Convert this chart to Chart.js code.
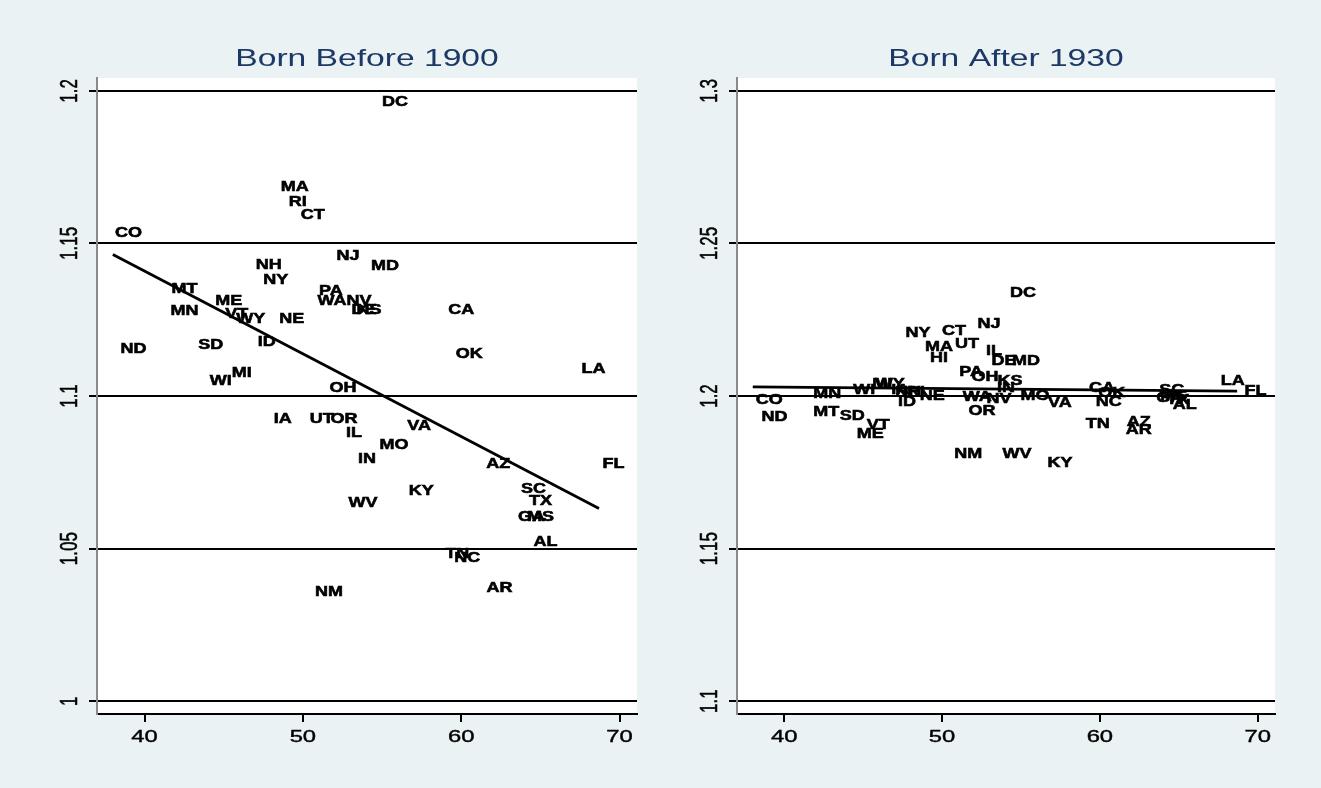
<!DOCTYPE html>
<html>
<head>
<meta charset="utf-8">
<script src="https://cdn.jsdelivr.net/npm/chart.js@4.4.1/dist/chart.umd.min.js"></script>
<style>
  html, body { margin: 0; padding: 0; background: #eaf2f3; }
  #wrap { position: relative; width: 1321px; height: 788px; overflow: hidden; }
  .panel { position: absolute; top: 0; height: 788px; }
</style>
</head>
<body>
<div id="wrap">
  <div class="panel" style="left:0;width:660px"><canvas id="before" width="660" height="788"></canvas></div>
  <div class="panel" style="left:660px;width:661px"><canvas id="after" width="661" height="788"></canvas></div>
</div>
<script>
// ---- data ----
const xTicks = [40, 50, 60, 70];

// Born before 1900
const statesBefore = ['DC','MA','RI','CT','CO','NJ','NH','MD','NY','MT','PA','ME','WA','NV','DE','KS','CA','MN','VT','WY',
  'NE','ID','SD','ND','OK','LA','MI','WI','OH','IA','UT','OR','IL','VA','MO','IN','AZ','FL','KY','SC',
  'WV','TX','GA','MS','AL','TN','NC','AR','NM'];
const xBefore = [55.82,49.49,49.68,50.63,38.99,52.85,47.85,55.19,48.29,42.53,51.77,45.32,51.84,53.54,53.86,54.18,60.00,42.53,45.82,46.71,
  49.30,47.72,44.18,39.30,60.51,68.35,46.14,44.81,52.53,48.73,51.20,52.59,53.23,57.34,55.76,54.05,62.34,69.62,57.47,64.56,
  53.80,65.00,64.43,65.00,65.32,59.75,60.38,62.41,51.65];
const yBefore = [1.1967,1.1689,1.1640,1.1597,1.1538,1.1463,1.1434,1.1430,1.1385,1.1355,1.1349,1.1316,1.1316,1.1316,1.1286,1.1286,1.1286,1.1283,1.1273,1.1257,
  1.1257,1.1182,1.1172,1.1159,1.1142,1.1093,1.1080,1.1054,1.1031,1.0930,1.0930,1.0930,1.0884,1.0907,1.0845,1.0799,1.0782,1.0782,1.0694,1.0700,
  1.0655,1.0661,1.0609,1.0609,1.0527,1.0488,1.0475,1.0376,1.0363];
const fitXBefore = [38, 68.7];
const fitYBefore = [1.1464, 1.0631];
const yTicksBefore = [1, 1.05, 1.1, 1.15, 1.2];
const yTickLabelsBefore = ['1', '1.05', '1.1', '1.15', '1.2'];

// Born after 1930
const statesAfter = ['DC','NJ','NY','CT','MA','UT','HI','IL','DE','MD','PA','OH','KS','IN','CA','OK','MO','VA','NC','OR',
  'WA','NV','WI','MN','MT','SD','CO','ND','VT','ME','ID','NE','MI','WY','IA','NH','RI','TN','AZ','AR',
  'NM','WV','KY','LA','FL','SC','GA','MS','TX','AL'];
const xAfter = [55.13,52.97,48.48,50.76,49.81,51.58,49.81,53.29,53.92,55.32,51.84,52.72,54.30,54.05,60.13,60.76,55.89,57.47,60.57,52.53,
  52.22,53.61,45.06,42.72,42.66,44.30,39.05,39.37,45.95,45.44,47.78,49.37,46.20,46.71,47.34,47.85,48.35,59.87,62.47,62.47,
  51.65,54.75,57.47,68.42,69.87,64.56,64.43,64.68,64.94,65.38];
const yAfter = [1.2342,1.2241,1.2211,1.2218,1.2166,1.2175,1.2129,1.2152,1.2119,1.2119,1.2083,1.2067,1.2054,1.2031,1.2031,1.2015,1.2005,1.1982,1.1985,1.1956,
  1.2002,1.1995,1.2025,1.2011,1.1953,1.1939,1.1992,1.1936,1.1910,1.1881,1.1985,1.2005,1.2044,1.2044,1.2025,1.2018,1.2018,1.1913,1.1920,1.1894,
  1.1815,1.1815,1.1786,1.2054,1.2021,1.2025,1.1998,1.2005,1.1992,1.1975];
const fitXAfter = [38, 68.7];
const fitYAfter = [1.2030, 1.2016];
const yTicksAfter = [1.1, 1.15, 1.2, 1.25, 1.3];
const yTickLabelsAfter = ['1.1', '1.15', '1.2', '1.25', '1.3'];

// ---- drawing ----
const STRETCH = 1.4; // the reference text is drawn wide

function wideText(ctx, text, x, y, sx, rot, stroke){
  ctx.save();
  ctx.translate(x, y);
  ctx.scale(sx, 1);
  if (rot) ctx.rotate(rot);
  ctx.fillText(text, 0, 0);
  if (stroke) ctx.strokeText(text, 0, 0);
  ctx.restore();
}

const stataText = {
  id: 'stataText',
  beforeDraw(chart){
    const a = chart.chartArea, ctx = chart.ctx;
    ctx.save();
    ctx.fillStyle = '#ffffff';
    ctx.fillRect(a.left, a.top, a.right - a.left, a.bottom - a.top);
    ctx.restore();
  },
  beforeDatasetsDraw(chart){
    const ctx = chart.ctx, o = chart.options.plugins.stataText;
    const meta = chart.getDatasetMeta(0);
    ctx.save();
    ctx.fillStyle = '#000000';
    ctx.strokeStyle = '#000000';
    ctx.lineWidth = 0.6;
    ctx.font = 'bold 15px "Liberation Sans", Arial, sans-serif';
    ctx.textAlign = 'center';
    ctx.textBaseline = 'alphabetic';
    meta.data.forEach((pt, i) => {
      wideText(ctx, o.names[i], pt.x, pt.y + 5.4, 1.2, 0, true);
    });
    ctx.restore();
  },
  afterDraw(chart){
    const ctx = chart.ctx, o = chart.options.plugins.stataText;
    const a = chart.chartArea, xs = chart.scales.x, ys = chart.scales.y;
    ctx.save();
    // title
    ctx.fillStyle = '#1c3866';
    ctx.font = '24px "Liberation Sans", Arial, sans-serif';
    ctx.textAlign = 'center';
    ctx.textBaseline = 'alphabetic';
    wideText(ctx, o.title, (a.left + a.right) / 2, 66, STRETCH);
    // x tick labels
    ctx.fillStyle = '#000000';
    ctx.strokeStyle = '#000000';
    ctx.lineWidth = 0.4;
    ctx.font = '17px "Liberation Sans", Arial, sans-serif';
    xs.ticks.forEach(t => {
      wideText(ctx, String(t.value), xs.getPixelForValue(t.value), a.bottom + 28, STRETCH, 0, true);
    });
    // y tick labels, rotated
    ys.ticks.forEach((t, i) => {
      wideText(ctx, o.yLabels[i], a.left - 20, ys.getPixelForValue(t.value), STRETCH, -Math.PI / 2, true);
    });
    ctx.restore();
  }
};

function panel(id, title, names, xs, ys, fitX, fitY, yTicks, yLabels, yMin, yMax, pad){
  return new Chart(document.getElementById(id), {
    type: 'scatter',
    data: {
      datasets: [
        { data: xs.map((x, i) => ({ x: x, y: ys[i] })), pointRadius: 0, pointHoverRadius: 0 },
        { type: 'line', data: fitX.map((x, i) => ({ x: x, y: fitY[i] })),
          borderColor: '#000000', borderWidth: 2.8, pointRadius: 0, fill: false, tension: 0 }
      ]
    },
    options: {
      responsive: false, animation: false, devicePixelRatio: 1,
      layout: { padding: pad },
      events: [],
      plugins: {
        legend: { display: false }, tooltip: { enabled: false },
        stataText: { title: title, names: names, yLabels: yLabels }
      },
      scales: {
        x: {
          type: 'linear', min: 37.0, max: 71.1,
          afterBuildTicks: s => { s.ticks = xTicks.map(v => ({ value: v })); },
          afterFit: s => { s.height = 10; },
          ticks: { display: false },
          grid: { drawOnChartArea: false, drawTicks: true, tickLength: 8, color: '#000000', lineWidth: 2 },
          border: { display: true, color: '#000000', width: 2 }
        },
        y: {
          type: 'linear', min: yMin, max: yMax,
          afterBuildTicks: s => { s.ticks = yTicks.map(v => ({ value: v })); },
          afterFit: s => { s.width = 10; },
          ticks: { display: false },
          grid: { drawTicks: true, tickLength: 8, color: '#000000', lineWidth: 2 },
          border: { display: true, color: '#8a8a8a', width: 2 }
        }
      }
    },
    plugins: [stataText]
  });
}

panel('before', 'Born Before 1900', statesBefore, xBefore, yBefore, fitXBefore, fitYBefore,
  yTicksBefore, yTickLabelsBefore, 0.9958, 1.2042, { left: 87, right: 23, top: 78, bottom: 64 });
panel('after', 'Born After 1930', statesAfter, xAfter, yAfter, fitXAfter, fitYAfter,
  yTicksAfter, yTickLabelsAfter, 1.0958, 1.3042, { left: 67, right: 46, top: 78, bottom: 64 });
</script>
</body>
</html>
